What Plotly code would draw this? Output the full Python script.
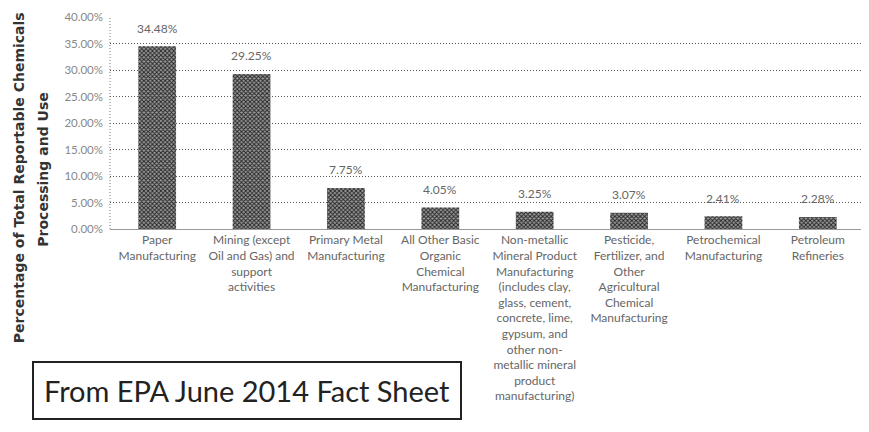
import plotly.graph_objects as go

categories = [
    "Paper<br>Manufacturing",
    "Mining (except<br>Oil and Gas) and<br>support<br>activities",
    "Primary Metal<br>Manufacturing",
    "All Other Basic<br>Organic<br>Chemical<br>Manufacturing",
    "Non-metallic<br>Mineral Product<br>Manufacturing<br>(includes clay,<br>glass, cement,<br>concrete, lime,<br>gypsum, and<br>other non-<br>metallic mineral<br>product<br>manufacturing)",
    "Pesticide,<br>Fertilizer, and<br>Other<br>Agricultural<br>Chemical<br>Manufacturing",
    "Petrochemical<br>Manufacturing",
    "Petroleum<br>Refineries",
]
values = [34.48, 29.25, 7.75, 4.05, 3.25, 3.07, 2.41, 2.28]
value_labels = [f"{v:.2f}%" for v in values]
tick_vals = [0, 5, 10, 15, 20, 25, 30, 35, 40]
tick_text = [f"{t:.2f}%" for t in tick_vals]

FONT = "Lato"

fig = go.Figure()
fig.add_trace(go.Bar(
    x=categories,
    y=values,
    width=0.4,
    marker=dict(
        color="#ffffff",
        line=dict(width=0),
        pattern=dict(shape="x", fgcolor="#222222", bgcolor="#9a9a9a", size=3, solidity=0.5, fillmode="replace"),
    ),
    hoverinfo="skip",
))

for c, v, lab in zip(categories, values, value_labels):
    fig.add_annotation(
        x=c, y=v, xref="x", yref="y", text=lab, showarrow=False,
        yanchor="middle", yshift=18,
        font=dict(family=FONT, size=12, color="#666666"),
    )

fig.update_layout(
    width=869, height=432,
    margin=dict(l=102, r=12, t=9, b=211, autoexpand=False),
    paper_bgcolor="white", plot_bgcolor="white",
    showlegend=False,
    font=dict(family=FONT, size=12, color="#666666"),
)
fig.update_yaxes(
    range=[0, 40], tickvals=tick_vals, ticktext=tick_text,
    showgrid=True, gridcolor="#555555", griddash="1px,2px", gridwidth=1,
    showline=False,
    zeroline=False,
    tickfont=dict(family=FONT, size=11.5, color="#888888"),
    ticks="", automargin=False,
    ticklabeloverflow="allow", ticklabelstandoff=6,
)
fig.update_xaxes(
    showline=True, linecolor="#999999", linewidth=1,
    tickfont=dict(family=FONT, size=12, color="#666666"),
    tickangle=0,
    ticks="", automargin=False,
)
# dotted left axis line
fig.add_shape(type="line", xref="paper", yref="paper", x0=0, x1=0, y0=0, y1=1,
              line=dict(color="#777777", width=1, dash="1px,2px"))

fig.add_annotation(
    text="<b>Percentage of Total Reportable Chemicals</b>",
    xref="paper", yref="paper", x=-0.1205, y=0.24,
    xanchor="center", yanchor="middle", textangle=-90, showarrow=False,
    font=dict(family="DejaVu Sans", size=14, color="#333333"),
)
fig.add_annotation(
    text="<b>Processing and Use</b>",
    xref="paper", yref="paper", x=-0.0887, y=0.28,
    xanchor="center", yanchor="middle", textangle=-90, showarrow=False,
    font=dict(family="DejaVu Sans", size=14, color="#333333"),
)
fig.add_annotation(
    text="From EPA June 2014 Fact Sheet",
    xref="paper", yref="paper", x=0.182, y=-0.762,
    xanchor="center", yanchor="middle", showarrow=False,
    font=dict(family=FONT, size=29, color="#222222"),
    bordercolor="#222222", borderwidth=2, borderpad=10, bgcolor="white",
)

fig.write_html("out.html")
